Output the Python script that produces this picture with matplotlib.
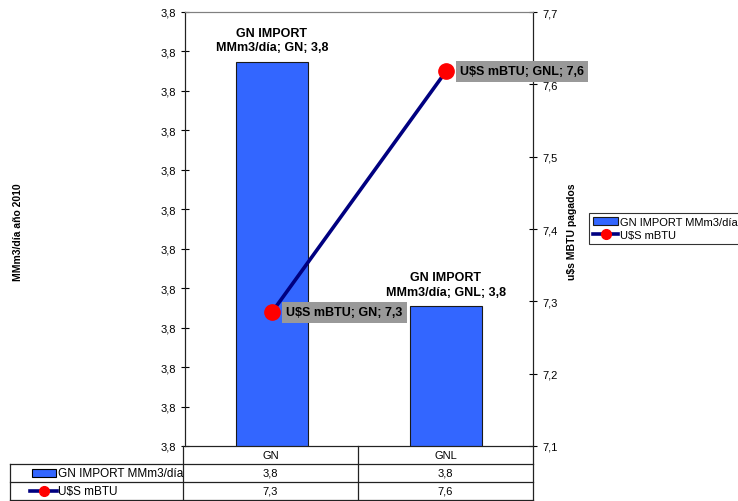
import numpy as np
import matplotlib.pyplot as plt
from matplotlib.patches import Rectangle
from matplotlib.lines import Line2D
from matplotlib.ticker import FuncFormatter

plt.rcParams['font.family'] = ['Liberation Sans', 'DejaVu Sans']

categories = ['GN', 'GNL']
import_values = [3.8187, 3.7877]
price_values = [7.285, 7.618]
import_name = 'GN IMPORT MMm3/día'
price_name = 'U$S mBTU'
import_table = ['3,8', '3,8']
price_table = ['7,3', '7,6']

BLUE = '#3366FF'
NAVY = '#000080'
W, H = 738, 502


def comma(v, pos=None):
    return f'{v:.1f}'.replace('.', ',')


def fx(px):
    return px / W


def fy(py):
    return (H - py) / H


fig = plt.figure(figsize=(W / 100, H / 100), dpi=100)
ax = fig.add_axes([fx(185), fy(447), 348 / W, 434 / H])
ax2 = ax.twinx()

x = np.arange(len(categories))
ax.bar(x, import_values, width=0.41, color=BLUE, edgecolor='#1a1a1a',
       linewidth=0.8, label=import_name, zorder=2)
ax.set_xlim(-0.5, 1.5)
ax.set_ylim(3.77, 3.825)
ax.set_yticks(3.77 + 0.005 * np.arange(12))
ax.yaxis.set_major_formatter(FuncFormatter(comma))
ax.set_xticks([])
ax.tick_params(axis='y', direction='inout', length=6, width=0.8, labelsize=8)

for xi, v, c in zip(x, import_values, categories):
    ax.annotate(f'{import_name.replace(" MM", chr(10) + "MM")}; {c}; {comma(v)}',
                (xi, v), xytext=(0, 6), textcoords='offset points',
                ha='center', va='bottom', fontsize=9, fontweight='bold',
                linespacing=1.3)

ax2.plot(x, price_values, color=NAVY, linewidth=2.6, marker='o',
         markersize=11, markerfacecolor='red', markeredgecolor='red',
         label=price_name, zorder=3)
ax2.set_ylim(7.1, 7.7)
ax2.set_yticks(np.arange(7.1, 7.75, 0.1))
ax2.yaxis.set_major_formatter(FuncFormatter(comma))
ax2.tick_params(axis='y', direction='inout', length=6, width=0.8, labelsize=8)

for xi, v, c in zip(x, price_values, categories):
    ax2.annotate(f'{price_name}; {c}; {comma(v)}', (xi, v),
                 xytext=(10, 0), textcoords='offset points',
                 ha='left', va='center', fontsize=9, fontweight='bold',
                 bbox=dict(boxstyle='square,pad=0.35', fc='#999999', ec='none'),
                 zorder=4)

for a in (ax, ax2):
    a.spines['top'].set_color('#808080')
    a.spines['left'].set_color('#222222')
    a.spines['right'].set_color('#222222')
    a.spines['bottom'].set_color('#222222')

fig.text(fx(18), 0.538, 'MMm3/día año 2010', rotation=90, ha='center',
         va='center', fontsize=7.5, fontweight='bold')
fig.text(fx(572), 0.538, 'u$s MBTU pagados', rotation=90, ha='center',
         va='center', fontsize=7.5, fontweight='bold')

# data table under the chart, drawn by hand
col_edges = [10, 183, 358, 533]
row_edges = [447, 465, 483, 501]
lc = '#222222'


def hline(y, x0, x1):
    fig.add_artist(Line2D([fx(x0), fx(x1)], [fy(y), fy(y)], color=lc, lw=0.9))


def vline(xp, y0, y1):
    fig.add_artist(Line2D([fx(xp), fx(xp)], [fy(y0), fy(y1)], color=lc, lw=0.9))


hline(row_edges[1], col_edges[0], col_edges[-1])
hline(row_edges[2], col_edges[0], col_edges[-1])
hline(row_edges[3], col_edges[0], col_edges[-1])
vline(col_edges[0], row_edges[1], row_edges[3])
for xp in col_edges[1:]:
    vline(xp, row_edges[0], row_edges[3])

rows = [categories, import_table, price_table]
for r, vals in enumerate(rows):
    yc = (row_edges[r] + row_edges[r + 1]) / 2
    for c, val in enumerate(vals):
        xc = (col_edges[c + 1] + col_edges[c + 2]) / 2
        fig.text(fx(xc), fy(yc), val, ha='center', va='center', fontsize=8)

fig.text(fx(58), fy(474), import_name, ha='left', va='center', fontsize=8.5)
fig.text(fx(58), fy(492), price_name, ha='left', va='center', fontsize=8.5)
fig.add_artist(Rectangle((fx(32), fy(478)), 24 / W, 8 / H,
                         transform=fig.transFigure, fc=BLUE, ec='black', lw=0.8))
fig.add_artist(Line2D([fx(30), fx(57)], [fy(492)] * 2, color=NAVY, lw=2.6))
fig.add_artist(Line2D([fx(43.5)], [fy(492)], marker='o', markersize=7,
                      color='red', lw=0))

h1, l1 = ax.get_legend_handles_labels()
h2, l2 = ax2.get_legend_handles_labels()
leg = fig.legend(h1 + h2, l1 + l2, loc='upper left',
                 bbox_to_anchor=(fx(589), fy(214)), fontsize=8,
                 frameon=True, fancybox=False, edgecolor='black',
                 borderpad=0.35, labelspacing=0.3, handlelength=2.3,
                 handletextpad=0.1, borderaxespad=0)
leg.get_frame().set_linewidth(0.8)
for lh in leg.legend_handles:
    if isinstance(lh, Line2D):
        lh.set_markersize(7)

fig.savefig('out.png', dpi=100)
